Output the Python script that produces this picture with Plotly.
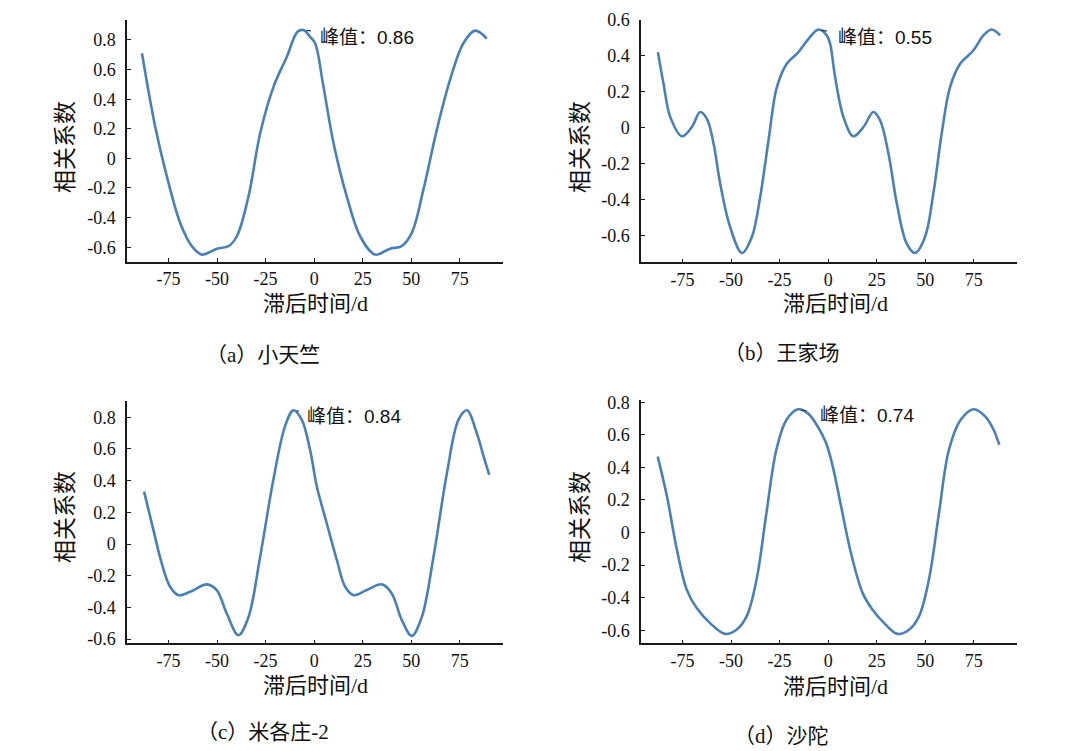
import plotly.graph_objects as go

W, H = 1068, 751

# ---------------- data ----------------
lag_a = [-88.7, -81.9, -75.9, -69.0, -63.0, -57.8, -50.1, -44.1, -39.8, -33.8, -27.8, -20.9,
         -14.0, -8.6, -5.5, -2.0, 0.5, 4.8, 10.0, 16.8, 23.7, 31.4, 39.1, 45.1, 50.3, 56.3,
         63.2, 70.0, 76.9, 82.9, 88.9]
r_a = [0.71, 0.216, -0.12, -0.436, -0.593, -0.65, -0.61, -0.593, -0.526, -0.256, 0.17, 0.485,
       0.688, 0.855, 0.867, 0.82, 0.778, 0.485, 0.103, -0.256, -0.526, -0.65, -0.61, -0.593,
       -0.503, -0.211, 0.193, 0.53, 0.778, 0.863, 0.81]

lag_b = [-87.7, -84.8, -81.3, -75.3, -70.2, -65.9, -62.5, -59.0, -55.6, -50.5, -44.4, -39.3,
         -35.0, -30.7, -26.4, -21.3, -15.3, -10.1, -5.0, -0.7, 1.0, 3.6, 7.9, 13.0, 18.2, 23.3,
         26.8, 31.1, 35.4, 40.5, 44.8, 49.9, 54.2, 58.5, 62.8, 68.0, 74.8, 80.0, 84.3, 88.6]
r_b = [0.421, 0.245, 0.059, -0.048, 0.004, 0.087, 0.05, -0.089, -0.312, -0.553, -0.698, -0.609,
       -0.386, -0.07, 0.226, 0.356, 0.421, 0.495, 0.547, 0.514, 0.468, 0.282, 0.059, -0.048,
       0.004, 0.087, 0.04, -0.145, -0.423, -0.646, -0.698, -0.609, -0.367, -0.033, 0.226,
       0.356, 0.43, 0.514, 0.547, 0.514]

lag_c = [-87.6, -82.8, -78.5, -74.2, -69.9, -63.9, -55.3, -50.2, -45.0, -39.0, -33.8, -27.8,
         -21.0, -15.0, -10.7, -6.4, -2.1, 1.4, 6.5, 11.7, 16.0, 20.3, 27.1, 34.9, 40.0, 45.2,
         50.3, 55.5, 61.5, 68.4, 74.4, 78.7, 83.8, 87.3, 90.2]
r_c = [0.331, 0.089, -0.122, -0.27, -0.323, -0.302, -0.255, -0.291, -0.439, -0.576, -0.46,
       -0.08, 0.405, 0.743, 0.844, 0.785, 0.595, 0.363, 0.131, -0.101, -0.27, -0.323, -0.291,
       -0.255, -0.312, -0.481, -0.58, -0.46, -0.08, 0.447, 0.785, 0.844, 0.7, 0.553, 0.437]

lag_d = [-87.8, -83.0, -77.9, -72.8, -67.7, -60.8, -53.1, -47.2, -42.0, -36.9, -31.8, -26.7,
         -21.5, -15.5, -10.4, -5.3, -1.0, 2.4, 6.7, 11.8, 17.8, 22.9, 28.9, 35.7, 41.7, 46.8,
         51.9, 57.1, 62.2, 68.2, 75.0, 81.0, 85.3, 88.2]
r_d = [0.466, 0.221, -0.106, -0.352, -0.464, -0.556, -0.622, -0.597, -0.515, -0.29, 0.119,
       0.507, 0.691, 0.757, 0.732, 0.65, 0.548, 0.405, 0.16, -0.127, -0.372, -0.474, -0.556,
       -0.622, -0.597, -0.515, -0.29, 0.119, 0.507, 0.691, 0.757, 0.712, 0.63, 0.538]

captions = ["（a）小天竺", "（b）王家场", "（c）米各庄-2", "（d）沙陀"]
peak_labels = ["峰值：0.86", "峰值：0.55", "峰值：0.84", "峰值：0.74"]
x_title = "滞后时间/d"
y_title = "相关系数"

x_tick_vals = [-75, -50, -25, 0, 25, 50, 75]
x_tick_text = ["-75", "-50", "-25", "0", "25", "50", "75"]
y_tick_vals_a = [-0.6, -0.4, -0.2, 0, 0.2, 0.4, 0.6, 0.8]
y_tick_text_a = ["-0.6", "-0.4", "-0.2", "0", "0.2", "0.4", "0.6", "0.8"]
y_tick_vals_b = [-0.6, -0.4, -0.2, 0, 0.2, 0.4, 0.6]
y_tick_text_b = ["-0.6", "-0.4", "-0.2", "0", "0.2", "0.4", "0.6"]

# ---------------- layout constants ----------------
series = [(lag_a, r_a), (lag_b, r_b), (lag_c, r_c), (lag_d, r_d)]
y_ranges = [[-0.70, 0.935], [-0.75, 0.60], [-0.627, 0.903], [-0.68, 0.814]]
y_ticks = [(y_tick_vals_a, y_tick_text_a), (y_tick_vals_b, y_tick_text_b),
           (y_tick_vals_a, y_tick_text_a), (y_tick_vals_a, y_tick_text_a)]
x_range = [-96.4, 97.3]
# pixel boxes: left, right, top, bottom
boxes = [(127, 503, 20, 262), (641, 1017, 20, 262.3), (127, 503, 401, 643.3), (641, 1017, 400, 643.3)]
# label offset from the peak (px, right / down) and short leader-line tail offset
label_shift = [(15, 7), (18, 8), (12, 6), (20, 6)]
leader_tail = [(9, 1), (10, 2), (7, 1), (10, 2)]
caption_pos = [(263, 355), (782, 353), (263, 732), (781, 736)]
ytitle_pos = [(65, 147), (580, 147), (65, 517), (580, 517)]
xtitle_pos = [(315, 303), (835, 303), (315, 685), (835, 686)]

LINE_COLOR = "#4a80b3"
AXIS_COLOR = "#1a1a1a"
SERIF = "Liberation Serif, Times New Roman, Noto Sans CJK SC, serif"
SANS = "Liberation Sans, Arial, Noto Sans CJK SC, sans-serif"

fig = go.Figure()
annotations = []

for i, ((xs, ys), box) in enumerate(zip(series, boxes)):
    n = "" if i == 0 else str(i + 1)
    fig.add_trace(go.Scatter(
        x=xs, y=ys, mode="lines",
        line=dict(color=LINE_COLOR, width=2.6, shape="spline", smoothing=1.0),
        xaxis="x" + n, yaxis="y" + n, showlegend=False, hoverinfo="skip"))

    l, r, t, b = box
    xd = [l / W, r / W]
    yd = [1 - b / H, 1 - t / H]
    common = dict(showline=True, linecolor=AXIS_COLOR, linewidth=1.5, ticks="inside",
                  ticklen=4, tickwidth=1.3, tickcolor=AXIS_COLOR, showgrid=False,
                  zeroline=False, automargin=False,
                  tickfont=dict(family=SERIF, size=18, color="#111"),
                  fixedrange=True)
    fig.update_layout(**{
        "xaxis" + n: dict(domain=xd, range=x_range, anchor="y" + n,
                          tickmode="array", tickvals=x_tick_vals + [x_range[1]],
                          ticktext=x_tick_text + [""], ticklabelstandoff=0, **common),
        "yaxis" + n: dict(domain=yd, range=y_ranges[i], anchor="x" + n,
                          tickmode="array", tickvals=y_ticks[i][0], ticktext=y_ticks[i][1],
                          ticklabelstandoff=6, **common),
    })

    # peak: short leader line + label
    k = max(range(len(ys)), key=lambda j: ys[j])
    tx, ty = leader_tail[i]
    annotations.append(dict(
        x=xs[k], y=ys[k], xref="x" + n, yref="y" + n, text=" ",
        showarrow=True, arrowhead=0, arrowwidth=1.2, arrowcolor="#333",
        standoff=3, ax=tx, ay=ty, font=dict(size=1)))
    sx, sy = label_shift[i]
    annotations.append(dict(
        x=xs[k], y=ys[k], xref="x" + n, yref="y" + n, text=peak_labels[i],
        showarrow=False, xanchor="left", yanchor="middle", xshift=sx, yshift=-sy,
        font=dict(family=SANS, size=19, color="#111")))

    # axis titles
    yx, yy = ytitle_pos[i]
    annotations.append(dict(x=yx / W, y=1 - yy / H, xref="paper", yref="paper",
                            text=y_title, textangle=-90, showarrow=False,
                            xanchor="center", yanchor="middle",
                            font=dict(family=SERIF, size=23, color="#111")))
    xx, xy = xtitle_pos[i]
    annotations.append(dict(x=xx / W, y=1 - xy / H, xref="paper", yref="paper",
                            text=x_title, showarrow=False, xanchor="center", yanchor="middle",
                            font=dict(family=SERIF, size=22, color="#111")))
    # caption
    cx, cy = caption_pos[i]
    annotations.append(dict(x=cx / W, y=1 - cy / H, xref="paper", yref="paper",
                            text=captions[i], showarrow=False, xanchor="center",
                            yanchor="middle",
                            font=dict(family=SERIF, size=21, color="#111")))

fig.update_layout(width=W, height=H, margin=dict(l=0, r=0, t=0, b=0),
                  template="none",
                  paper_bgcolor="white", plot_bgcolor="white",
                  annotations=annotations, showlegend=False)

fig.write_html("out.html", config={"displayModeBar": False},
               post_script="document.body.style.margin='0';document.body.style.padding='0';")
